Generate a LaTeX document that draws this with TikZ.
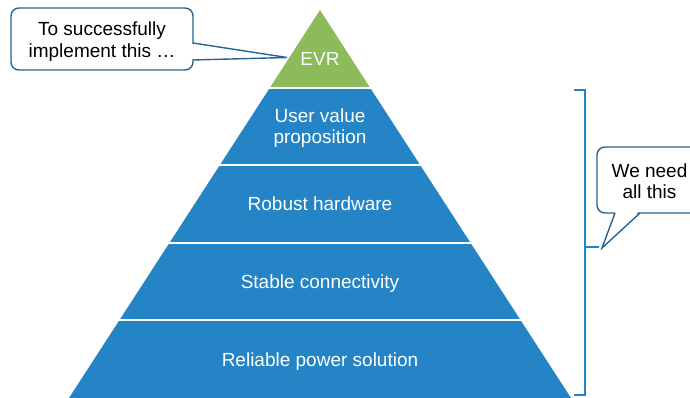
\documentclass[tikz,border=0pt]{standalone}
\usepackage{fontspec}
\setmainfont{Liberation Sans}
\definecolor{pyrblue}{RGB}{36,132,198}
\definecolor{pyrgreen}{RGB}{139,187,90}
\definecolor{calloutline}{RGB}{38,100,148}
\begin{document}
\begin{tikzpicture}[x=1pt,y=-1pt,
  lbl/.style={text=white,font=\fontsize{19}{21}\selectfont,align=center},
  calloutlbl/.style={text=black,font=\fontsize{19}{22}\selectfont,align=center},
  balloon/.style={draw=calloutline,line width=1.4pt,fill=white,rounded corners=8pt},
  tail/.style={draw=calloutline,line width=1.4pt,line join=miter},
  divider/.style={white,line width=2pt},
  bracket/.style={draw=pyrblue,line width=2pt}]
\useasboundingbox (0,0) rectangle (690,398);
\clip (0,0) rectangle (690,398);

% pyramid outline points
\coordinate (apex) at (320,10);
\coordinate (l1) at (270,87.6);  \coordinate (r1) at (370,87.6);
\coordinate (l2) at (220,165.2); \coordinate (r2) at (420,165.2);
\coordinate (l3) at (170,242.8); \coordinate (r3) at (470,242.8);
\coordinate (l4) at (120,320.4); \coordinate (r4) at (520,320.4);
\coordinate (l5) at (69,398);    \coordinate (r5) at (571,398);

% levels
\fill[pyrgreen] (apex) -- (r1) -- (l1) -- cycle;
\fill[pyrblue] (l1) -- (r1) -- (r5) -- (l5) -- cycle;
\draw[divider] ([xshift=-2pt]l1) -- ([xshift=2pt]r1);
\draw[divider] ([xshift=-2pt]l2) -- ([xshift=2pt]r2);
\draw[divider] ([xshift=-2pt]l3) -- ([xshift=2pt]r3);
\draw[divider] ([xshift=-2pt]l4) -- ([xshift=2pt]r4);

% level labels (single lines placed on their baselines)
\node[lbl,anchor=base] (evr) at (320,66) {EVR};
\node[lbl] (uvp) at (320,128) {User value\\proposition};
\node[lbl,anchor=base] (hw) at (320,210) {Robust hardware};
\node[lbl,anchor=base] (conn) at (320,288) {Stable connectivity};
\node[lbl,anchor=base] (power) at (320,366) {Reliable power solution};

% left speech balloon
\draw[balloon] (11,8) rectangle (193,70);
\coordinate (ltip) at (287,57.5);
\fill[white] (191,44) -- (ltip) -- (191,59.5) -- cycle;
\draw[tail] (193,43) -- (ltip) -- (193,60);
\node[calloutlbl] (goal) at (102,41.5) {To successfully\\implement this \dots};

% bracket spanning the blue levels
\coordinate (btop) at (574,90);
\coordinate (bbot) at (574,395);
\coordinate (bmid) at (585,247);
\draw[bracket] (btop) -- (585,90) -- (585,395) -- (bbot);
\draw[bracket] (bmid) -- (599,247);

% right speech balloon
\draw[balloon] (597,147) rectangle (715,213);
\coordinate (rtip) at (602,248);
\fill[white] (615.5,211) -- (rtip) -- (639,211) -- cycle;
\draw[tail] (615,213) -- (rtip) -- (640,213);
\node[calloutlbl,font=\fontsize{19}{21}\selectfont] (need) at (649.5,181) {We need\\all this};
\end{tikzpicture}
\end{document}
